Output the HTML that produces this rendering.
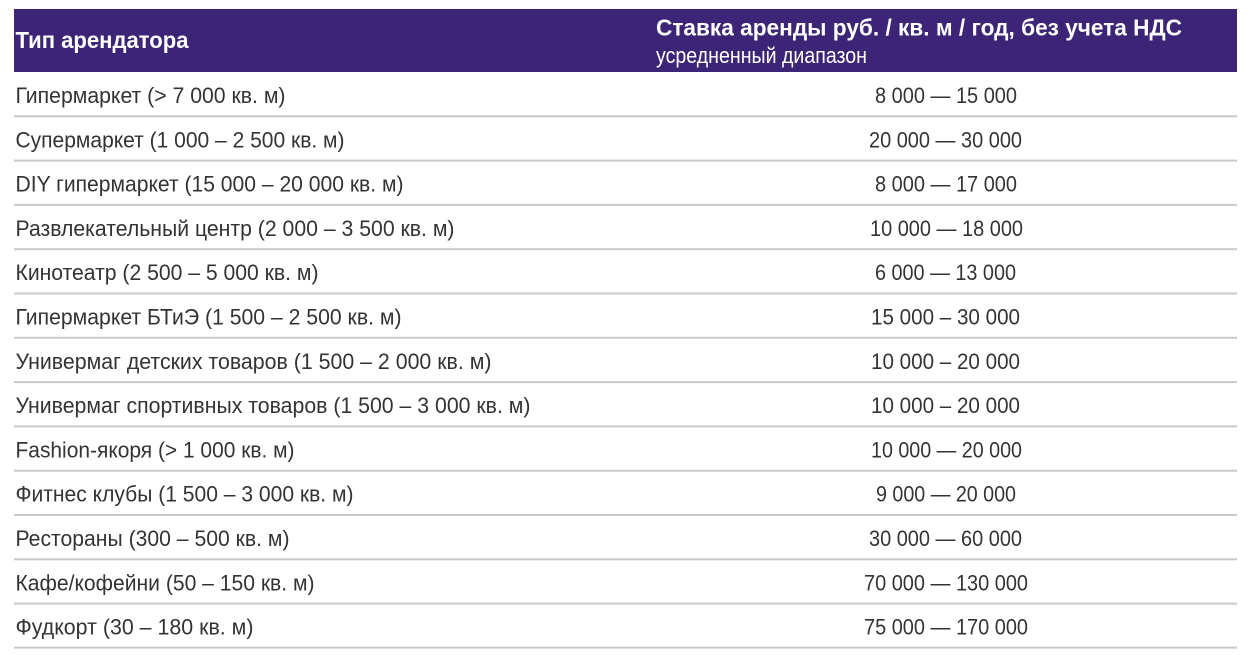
<!DOCTYPE html>
<html><head><meta charset="utf-8"><style>
html,body{margin:0;padding:0;background:#fff;}
svg{display:block;}
text{font-family:"Liberation Sans Narrow","Liberation Sans","DejaVu Sans Condensed",sans-serif;}
.b{font-size:22.5px;fill:#333;}
.h{font-size:23px;font-weight:bold;fill:#fff;}
.s{font-size:22px;fill:#fff;}
</style></head><body>
<svg width="1249" height="655" viewBox="0 0 1249 655" xmlns="http://www.w3.org/2000/svg">
<rect x="0" y="0" width="1249" height="655" fill="#fff"/>
<rect x="14" y="9" width="1223" height="63" fill="#3c2576"/>
<text class="h" x="15.5" y="48" textLength="173" lengthAdjust="spacingAndGlyphs">Тип арендатора</text>
<text class="h" x="656" y="35.3" textLength="526" lengthAdjust="spacingAndGlyphs">Ставка аренды руб. / кв. м / год, без учета НДС</text>
<text class="s" x="656" y="63" textLength="211" lengthAdjust="spacingAndGlyphs">усредненный диапазон</text>

<g fill="#c9c9c9">
<rect x="14" y="115.3" width="1223" height="2"/>
<rect x="14" y="159.6" width="1223" height="2"/>
<rect x="14" y="203.9" width="1223" height="2"/>
<rect x="14" y="248.2" width="1223" height="2"/>
<rect x="14" y="292.5" width="1223" height="2"/>
<rect x="14" y="336.8" width="1223" height="2"/>
<rect x="14" y="381.1" width="1223" height="2"/>
<rect x="14" y="425.4" width="1223" height="2"/>
<rect x="14" y="469.7" width="1223" height="2"/>
<rect x="14" y="514.0" width="1223" height="2"/>
<rect x="14" y="558.3" width="1223" height="2"/>
<rect x="14" y="602.6" width="1223" height="2"/>
<rect x="14" y="646.6" width="1223" height="2"/>
</g>

<g class="b">
<text class="b" x="15.5" y="103" textLength="270" lengthAdjust="spacingAndGlyphs">Гипермаркет (&gt; 7 000 кв. м)</text>
<text class="b" x="15.5" y="147.3" textLength="329" lengthAdjust="spacingAndGlyphs">Супермаркет (1 000 – 2 500 кв. м)</text>
<text class="b" x="15.5" y="191.6" textLength="388" lengthAdjust="spacingAndGlyphs">DIY гипермаркет (15 000 – 20 000 кв. м)</text>
<text class="b" x="15.5" y="235.9" textLength="439" lengthAdjust="spacingAndGlyphs">Развлекательный центр (2 000 – 3 500 кв. м)</text>
<text class="b" x="15.5" y="280.2" textLength="303" lengthAdjust="spacingAndGlyphs">Кинотеатр (2 500 – 5 000 кв. м)</text>
<text class="b" x="15.5" y="324.5" textLength="386" lengthAdjust="spacingAndGlyphs">Гипермаркет БТиЭ (1 500 – 2 500 кв. м)</text>
<text class="b" x="15.5" y="368.8" textLength="476" lengthAdjust="spacingAndGlyphs">Универмаг детских товаров (1 500 – 2 000 кв. м)</text>
<text class="b" x="15.5" y="413.1" textLength="515" lengthAdjust="spacingAndGlyphs">Универмаг спортивных товаров (1 500 – 3 000 кв. м)</text>
<text class="b" x="15.5" y="457.4" textLength="279" lengthAdjust="spacingAndGlyphs">Fashion-якоря (&gt; 1 000 кв. м)</text>
<text class="b" x="15.5" y="501.7" textLength="338" lengthAdjust="spacingAndGlyphs">Фитнес клубы (1 500 – 3 000 кв. м)</text>
<text class="b" x="15.5" y="546.0" textLength="274" lengthAdjust="spacingAndGlyphs">Рестораны (300 – 500 кв. м)</text>
<text class="b" x="15.5" y="590.3" textLength="299" lengthAdjust="spacingAndGlyphs">Кафе/кофейни (50 – 150 кв. м)</text>
<text class="b" x="15.5" y="634.6" textLength="238" lengthAdjust="spacingAndGlyphs">Фудкорт (30 – 180 кв. м)</text>
</g>

<g>
<text class="b" x="875" y="103" textLength="142" lengthAdjust="spacingAndGlyphs">8 000 — 15 000</text>
<text class="b" x="869" y="147.3" textLength="153" lengthAdjust="spacingAndGlyphs">20 000 — 30 000</text>
<text class="b" x="875" y="191.6" textLength="142" lengthAdjust="spacingAndGlyphs">8 000 — 17 000</text>
<text class="b" x="870" y="235.9" textLength="153" lengthAdjust="spacingAndGlyphs">10 000 — 18 000</text>
<text class="b" x="875" y="280.2" textLength="141" lengthAdjust="spacingAndGlyphs">6 000 — 13 000</text>
<text class="b" x="871" y="324.5" textLength="149" lengthAdjust="spacingAndGlyphs">15 000 – 30 000</text>
<text class="b" x="871" y="368.8" textLength="149" lengthAdjust="spacingAndGlyphs">10 000 – 20 000</text>
<text class="b" x="871" y="413.1" textLength="149" lengthAdjust="spacingAndGlyphs">10 000 – 20 000</text>
<text class="b" x="871" y="457.4" textLength="151" lengthAdjust="spacingAndGlyphs">10 000 — 20 000</text>
<text class="b" x="876" y="501.7" textLength="140" lengthAdjust="spacingAndGlyphs">9 000 — 20 000</text>
<text class="b" x="869" y="546.0" textLength="153" lengthAdjust="spacingAndGlyphs">30 000 — 60 000</text>
<text class="b" x="864" y="590.3" textLength="164" lengthAdjust="spacingAndGlyphs">70 000 — 130 000</text>
<text class="b" x="864" y="634.6" textLength="164" lengthAdjust="spacingAndGlyphs">75 000 — 170 000</text>
</g>
</svg>
</body></html>
